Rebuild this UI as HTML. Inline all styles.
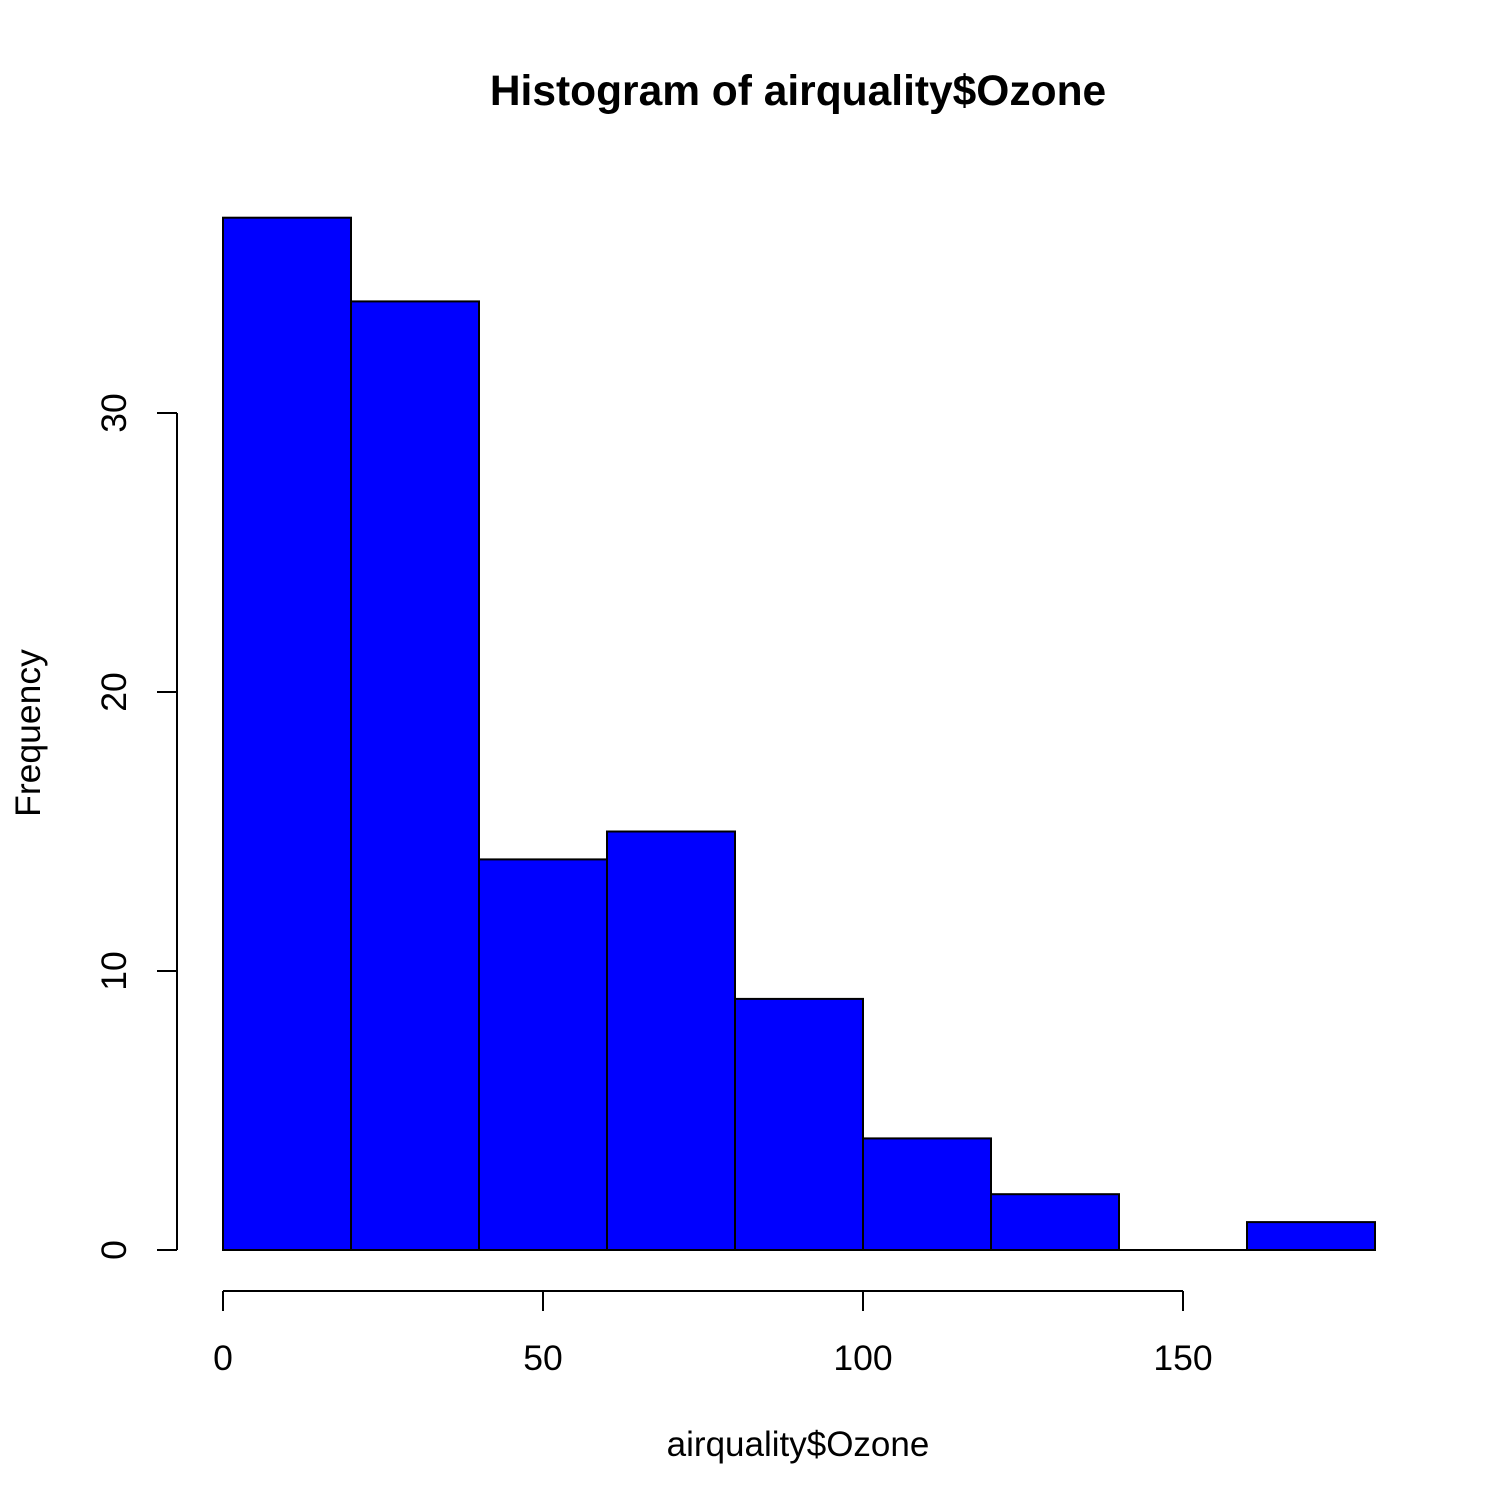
<!DOCTYPE html>
<html><head><meta charset="utf-8"><style>
body{margin:0;background:#fff}
svg{display:block;font-family:"Liberation Sans",Arial,sans-serif}
</style></head><body>
<svg id="chart" width="1512" height="1512" viewBox="0 0 1512 1512">
<text x="798" y="105" font-size="42.5" font-weight="bold" text-anchor="middle">Histogram of airquality$Ozone</text>
<text x="798" y="1456" font-size="35" text-anchor="middle">airquality$Ozone</text>
<text transform="translate(40,733) rotate(-90)" font-size="35.5" text-anchor="middle">Frequency</text>
<g id="bars"></g>
<g id="xaxis" stroke="#000" stroke-width="2"></g>
<g id="yaxis" stroke="#000" stroke-width="2"></g>
</svg>
<script>
const binStarts=[0,20,40,60,80,100,120,140,160];
const binWidth=20;
const counts=[37,34,14,15,9,4,2,0,1];
const xTicks=[0,50,100,150];
const yTicks=[0,10,20,30];
const NS="http://www.w3.org/2000/svg";
function xs(v){return 223+v*6.4;}
function ys(v){return 1250-v*27.9;}
const bars=document.getElementById('bars');
binStarts.forEach((b,i)=>{
  if(counts[i]<=0){
    const l=document.createElementNS(NS,'line');
    l.setAttribute('x1',xs(b));l.setAttribute('x2',xs(b+binWidth));
    l.setAttribute('y1',ys(0));l.setAttribute('y2',ys(0));
    l.setAttribute('stroke','#000');l.setAttribute('stroke-width','2');
    
    
    bars.appendChild(l);return;
  }
  const r=document.createElementNS(NS,'rect');
  r.setAttribute('x',xs(b));r.setAttribute('width',xs(b+binWidth)-xs(b));
  r.setAttribute('y',ys(counts[i]));r.setAttribute('height',ys(0)-ys(counts[i]));
  r.setAttribute('fill','#0000ff');r.setAttribute('stroke','#000');r.setAttribute('stroke-width','2');
  
  
  bars.appendChild(r);
});
const xa=document.getElementById('xaxis');
function line(g,x1,y1,x2,y2,name){
  const l=document.createElementNS(NS,'line');
  l.setAttribute('x1',x1);l.setAttribute('y1',y1);l.setAttribute('x2',x2);l.setAttribute('y2',y2);
  
  
  g.appendChild(l);
}
function text(g,x,y,s,tr,name){
  const t=document.createElementNS(NS,'text');
  t.setAttribute('x',x);t.setAttribute('y',y);t.setAttribute('font-size','35.5');
  t.setAttribute('text-anchor','middle');t.setAttribute('stroke','none');
  if(tr)t.setAttribute('transform',tr);
  t.textContent=s;
  
  
  g.appendChild(t);
}
line(xa,xs(xTicks[0]),1291,xs(xTicks[xTicks.length-1]),1291,'x-axis-line');
xTicks.forEach(v=>{line(xa,xs(v),1291,xs(v),1311,'x-tick');text(xa,xs(v),1370,String(v),null,'x-tick-label');});
const ya=document.getElementById('yaxis');
line(ya,177,ys(yTicks[0]),177,ys(yTicks[yTicks.length-1]),'y-axis-line');
yTicks.forEach(v=>{line(ya,157,ys(v),177,ys(v),'y-tick');text(ya,126,ys(v),String(v),'rotate(-90 126 '+ys(v)+')','y-tick-label');});
</script>
</body></html>
